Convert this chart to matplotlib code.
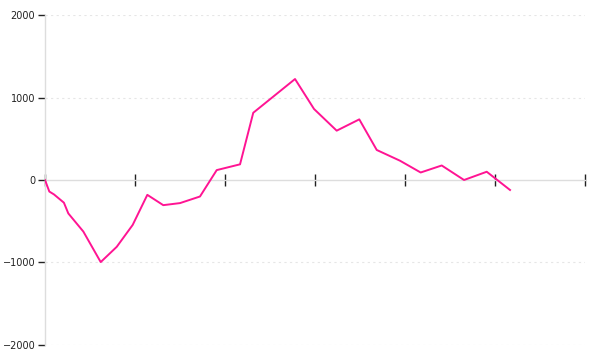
import matplotlib
matplotlib.use("Agg")
import matplotlib.pyplot as plt

# x positions (arbitrary time units, ticks every 1 unit) and values
x_vals = [0.0, 0.048, 0.10, 0.21, 0.259, 0.426, 0.619, 0.797, 0.974, 1.137, 1.314,
          1.5, 1.722, 1.908, 2.167, 2.314, 2.778, 2.989, 3.241, 3.492, 3.686,
          3.944, 4.174, 4.408, 4.656, 4.908, 5.167]
y_vals = [0, -140, -175, -275, -405, -625, -995, -810, -545, -180, -305,
          -280, -200, 120, 190, 815, 1224, 861, 598, 735, 364,
          234, 91, 176, 0, 100, -121]
x_ticks = [0, 1, 2, 3, 4, 5, 6]
y_ticks = [-2000, -1000, 0, 1000, 2000]

fig = plt.figure(figsize=(6, 3.6), dpi=100)
ax = fig.add_axes([0.075, 0.0417, 0.9, 0.9166])
ax.set_xlim(0, 6)
ax.set_ylim(-2000, 2000)

for yv in y_ticks:
    if yv != 0:
        ax.axhline(yv, color="#e6e6e6", lw=0.8, ls=(0, (2, 3)), zorder=0)

ax.plot(x_vals, y_vals, color="#ff1493", lw=1.4, zorder=3)

for s in ["top", "right"]:
    ax.spines[s].set_visible(False)
ax.spines["left"].set_color("#dddddd")
ax.spines["left"].set_linewidth(1.0)
ax.spines["bottom"].set_position(("data", 0))
ax.spines["bottom"].set_color("#dddddd")
ax.spines["bottom"].set_linewidth(1.0)

ax.set_xticks(x_ticks)
ax.set_xticklabels([])
ax.tick_params(axis="x", direction="inout", length=8, width=1, color="#222222")

ax.set_yticks(y_ticks)
ax.set_yticklabels([str(v).replace("-", "\u2212") for v in y_ticks])
ax.tick_params(axis="y", direction="out", length=5, width=1, color="#222222",
               labelsize=7, labelcolor="#222222", pad=2)

fig.savefig("out.png", dpi=100)
